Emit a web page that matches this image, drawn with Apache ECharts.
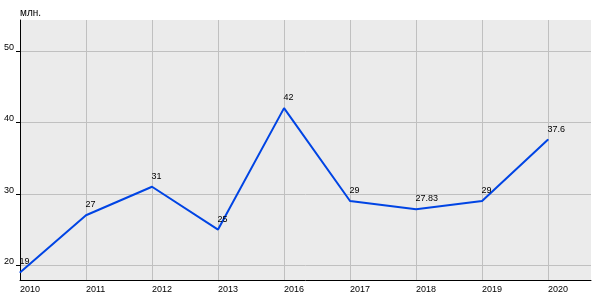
<!DOCTYPE html>
<html><head><meta charset="utf-8">
<script src="https://cdn.jsdelivr.net/npm/echarts@6/dist/echarts.min.js"></script>
<style>html,body{margin:0;padding:0;background:#fff}#c{width:600px;height:300px}</style>
</head><body><div id="c"></div>
<script>
const years = ['2010','2011','2012','2013','2016','2017','2018','2019','2020'];
const values = [19, 27, 31, 25, 42, 29, 27.83, 29, 37.6];
const valueLabels = ['19','27','31','25','42','29','27.83','29','37.6'];
const yTicks = [20, 30, 40, 50];
const unitName = 'млн.';

const xIdx = years.map((_, i) => i);
const seriesData = values.map((v, i) => [i, v]);
const font = 'Liberation Sans, Arial, sans-serif';

const chart = echarts.init(document.getElementById('c'), null, {renderer: 'canvas'});
chart.setOption({
  animation: false,
  backgroundColor: '#ffffff',
  grid: {left: 20, top: 20, right: 9, bottom: 20, show: true, backgroundColor: '#ebebeb', borderWidth: 0, containLabel: false},
  xAxis: {
    type: 'value', min: 0, max: 8.65,
    axisLine: {show: true, onZero: false, lineStyle: {color: '#000', width: 1}},
    axisTick: {show: false, customValues: xIdx},
    axisLabel: {customValues: xIdx, formatter: v => years[Math.round(v)] || '', align: 'left', margin: 5,
      color: '#000', fontSize: 9, fontFamily: font},
    splitLine: {show: true, lineStyle: {color: '#c0c0c0', width: 1}}
  },
  yAxis: {
    type: 'value', min: 17.94, max: 54.34,
    name: unitName, nameLocation: 'end', nameGap: 7,
    nameTextStyle: {align: 'left', verticalAlign: 'middle', color: '#000', fontSize: 10, fontFamily: font},
    axisLine: {show: true, onZero: false, lineStyle: {color: '#000', width: 1}},
    axisTick: {show: true, length: 4, customValues: yTicks, lineStyle: {color: '#000'}},
    axisLabel: {customValues: yTicks, margin: 6, verticalAlign: 'bottom', lineHeight: 7, color: '#000', fontSize: 9, fontFamily: font},
    splitLine: {show: true, lineStyle: {color: '#c0c0c0', width: 1}}
  },
  series: [{
    type: 'line',
    data: seriesData,
    symbol: 'circle', symbolSize: 1, showSymbol: true,
    itemStyle: {color: '#0044e4'},
    lineStyle: {color: '#0044e4', width: 2},
    label: {show: true, formatter: p => valueLabels[p.dataIndex], position: [0, -5.5],
      align: 'left', verticalAlign: 'bottom', color: '#000', fontSize: 9, fontFamily: font}
  }]
});
</script></body></html>
